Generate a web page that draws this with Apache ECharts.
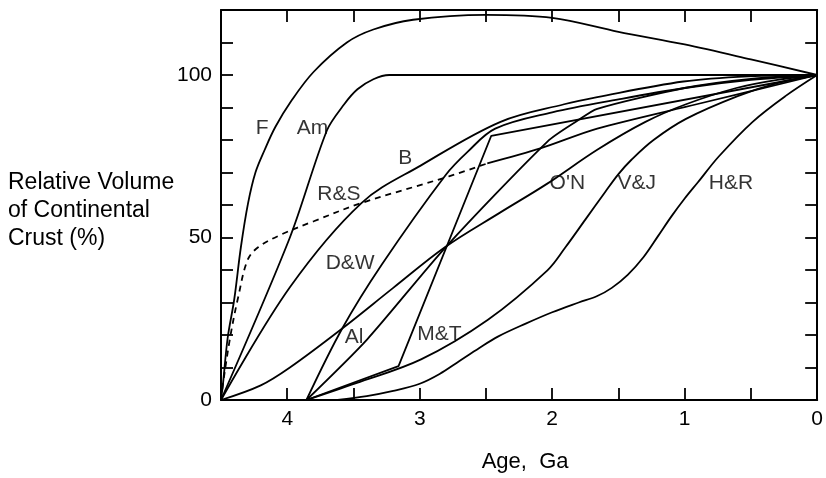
<!DOCTYPE html>
<html>
<head>
<meta charset="utf-8">
<script src="https://cdn.jsdelivr.net/npm/echarts@6/dist/echarts.min.js"></script>
<style>
html, body { margin: 0; padding: 0; background: #fff; }
#chart { width: 826px; height: 478px; }
</style>
</head>
<body>
<div id="chart"></div>
<script>
// curves: [age Ga, relative volume %]
var F = [[4.5,0],[4.485,5],[4.45,19],[4.4,31],[4.35,47],[4.296,60.5],[4.24,70],[4.17,77],[4.09,84],[3.97,92],[3.8,101],[3.55,110],[3.35,114],[3.05,117],[2.5,118.5],[2.0,117.6],[1.5,113.3],[1.0,109.4],[0.5,104.8],[0,100]];
var Am = [[4.5,0],[3.98,50],[3.7,83],[3.57,91],[3.47,95.6],[3.35,98.7],[3.23,100],[2.5,100],[0,100]];
var RS = [[4.5,0],[4.485,5],[4.43,19.5],[4.37,31.7],[4.3,43],[4.22,47],[4.04,51],[3.8,55],[3.44,60.6],[2.78,68.8],[2.49,72.8]];
var RSlate = [[2.49,72.8],[2.09,77.4],[1.66,83.5],[0.91,91],[0,100]];
var B = [[4.5,0],[3.98,34.7],[3.44,60.6],[2.99,72.2],[2.39,85.6],[1.91,91],[1.66,93.2],[1.01,98],[0.52,99.6],[0,100]];
var DW = [[3.855,0],[3.585,22],[3.286,41.7],[2.807,69.1],[2.635,76.5],[2.43,83.5],[2.0,88.5],[1.5,92.5],[1.0,96],[0.5,98.5],[0,100]];
var Al = [[3.855,0],[3.398,18.6],[2.807,46.9],[2.036,79.5],[1.81,85.9],[1.66,89.6],[1.0,96],[0.5,98.8],[0,100]];
var MT = [[3.855,0],[3.16,10.4],[2.46,81.3],[0,100]];
var ON = [[4.5,0],[4.2,4.5],[3.98,10],[3.585,22],[3.2,34.5],[2.81,47],[2.4,57.5],[2.04,66.5],[1.66,77],[1.3,85.5],[0.99,91],[0.61,96],[0.3,98.5],[0,100]];
var VJ = [[3.855,0],[3.48,5.2],[2.99,12.5],[2.485,24.7],[2.036,39.9],[1.9,47],[1.75,55.5],[1.6,64],[1.5,69.5],[1.4,74],[1.235,80],[0.99,86.5],[0.6,93.5],[0.3,97.5],[0,100]];
var HR = [[3.62,0],[3.4,1.2],[3.2,2.8],[3.0,5],[2.85,8],[2.7,12],[2.55,16],[2.41,19.5],[2.2,23.5],[2.0,27],[1.8,30],[1.66,32],[1.55,34.5],[1.43,38.5],[1.31,44],[1.2,50.5],[1.1,56.5],[1.0,62],[0.9,67],[0.741,75],[0.487,85.6],[0.24,93.5],[0,100]];

var labelNames = ['F', 'Am', 'B', 'R&S', 'D&W', 'Al', 'M&T', "O'N", 'V&J', 'H&R'];
var labelAges = [4.19, 3.81, 3.11, 3.61, 3.525, 3.496, 2.852, 1.886, 1.362, 0.651];
var labelVals = [83.5, 83.5, 74.3, 63.4, 42, 19.2, 20.1, 66.7, 66.7, 66.7];

var yShown = [0, 50, 100];

var font = '"Liberation Sans", Arial, Helvetica, sans-serif';
var chart = echarts.init(document.getElementById('chart'));

function curve(name, data, dashed, smooth) {
    return {
        name: name,
        type: 'line',
        data: data,
        xAxisIndex: 0,
        yAxisIndex: 0,
        showSymbol: false,
        symbol: 'none',
        smooth: smooth,
        silent: true,
        lineStyle: { color: '#000', width: 1.8, type: dashed ? [6, 5] : 'solid' }
    };
}

var labelData = [];
for (var i = 0; i < labelNames.length; i++) {
    labelData.push([labelAges[i], labelVals[i], labelNames[i]]);
}

var tickStyle = { inside: true, length: 12, lineStyle: { color: '#000', width: 1.8 } };
var lineStyle = { show: true, onZero: false, lineStyle: { color: '#000', width: 2 } };

var option = {
    animation: false,
    backgroundColor: '#fff',
    textStyle: { fontFamily: font },
    grid: { left: 221, right: 3, top: 10, bottom: 74, containLabel: false },
    xAxis: [{
        type: 'value', min: 0, max: 4.5, interval: 0.5, inverse: true,
        position: 'bottom',
        name: 'Age,  Ga', nameLocation: 'middle', nameGap: 51,
        nameTextStyle: { fontSize: 22, color: '#000', fontFamily: font, padding: [0, 0, 0, 12] },
        axisLine: lineStyle, axisTick: tickStyle, splitLine: { show: false },
        axisLabel: {
            fontSize: 21, color: '#000', margin: 9, fontFamily: font,
            formatter: function (v) { return Number.isInteger(v) ? String(v) : ''; }
        }
    }, {
        type: 'value', min: 0, max: 4.5, interval: 0.5, inverse: true,
        position: 'top',
        axisLine: lineStyle, axisTick: tickStyle, splitLine: { show: false },
        axisLabel: { show: false }
    }],
    yAxis: [{
        type: 'value', min: 0, max: 120, interval: 10,
        position: 'left',
        axisLine: lineStyle, axisTick: tickStyle, splitLine: { show: false },
        axisLabel: {
            fontSize: 21, color: '#000', margin: 9, fontFamily: font,
            formatter: function (v) { return yShown.indexOf(v) >= 0 ? String(v) : ''; }
        }
    }, {
        type: 'value', min: 0, max: 120, interval: 10,
        position: 'right',
        axisLine: lineStyle, axisTick: tickStyle, splitLine: { show: false },
        axisLabel: { show: false }
    }],
    graphic: [{
        type: 'text', left: 8, top: 169,
        style: {
            text: 'Relative Volume\nof Continental\nCrust (%)',
            font: '23px ' + font, lineHeight: 28, fill: '#000'
        }
    }],
    series: [
        curve('F', F, false, 0.35),
        curve('Am', Am, false, 0.3),
        curve('R&S', RS, true, 0.35),
        curve('R&S late', RSlate, false, 0.3),
        curve('B', B, false, 0.35),
        curve('D&W', DW, false, 0.35),
        curve('Al', Al, false, 0.25),
        curve('M&T', MT, false, false),
        curve("O'N", ON, false, 0.35),
        curve('V&J', VJ, false, 0.35),
        curve('H&R', HR, false, 0.35),
        {
            type: 'scatter', data: labelData, symbolSize: 0, silent: true,
            label: {
                show: true, position: 'inside', color: '#000', fontSize: 21, fontFamily: font,
                formatter: function (p) { return p.data[2]; }
            }
        }
    ]
};

chart.setOption(option);
</script>
</body>
</html>
